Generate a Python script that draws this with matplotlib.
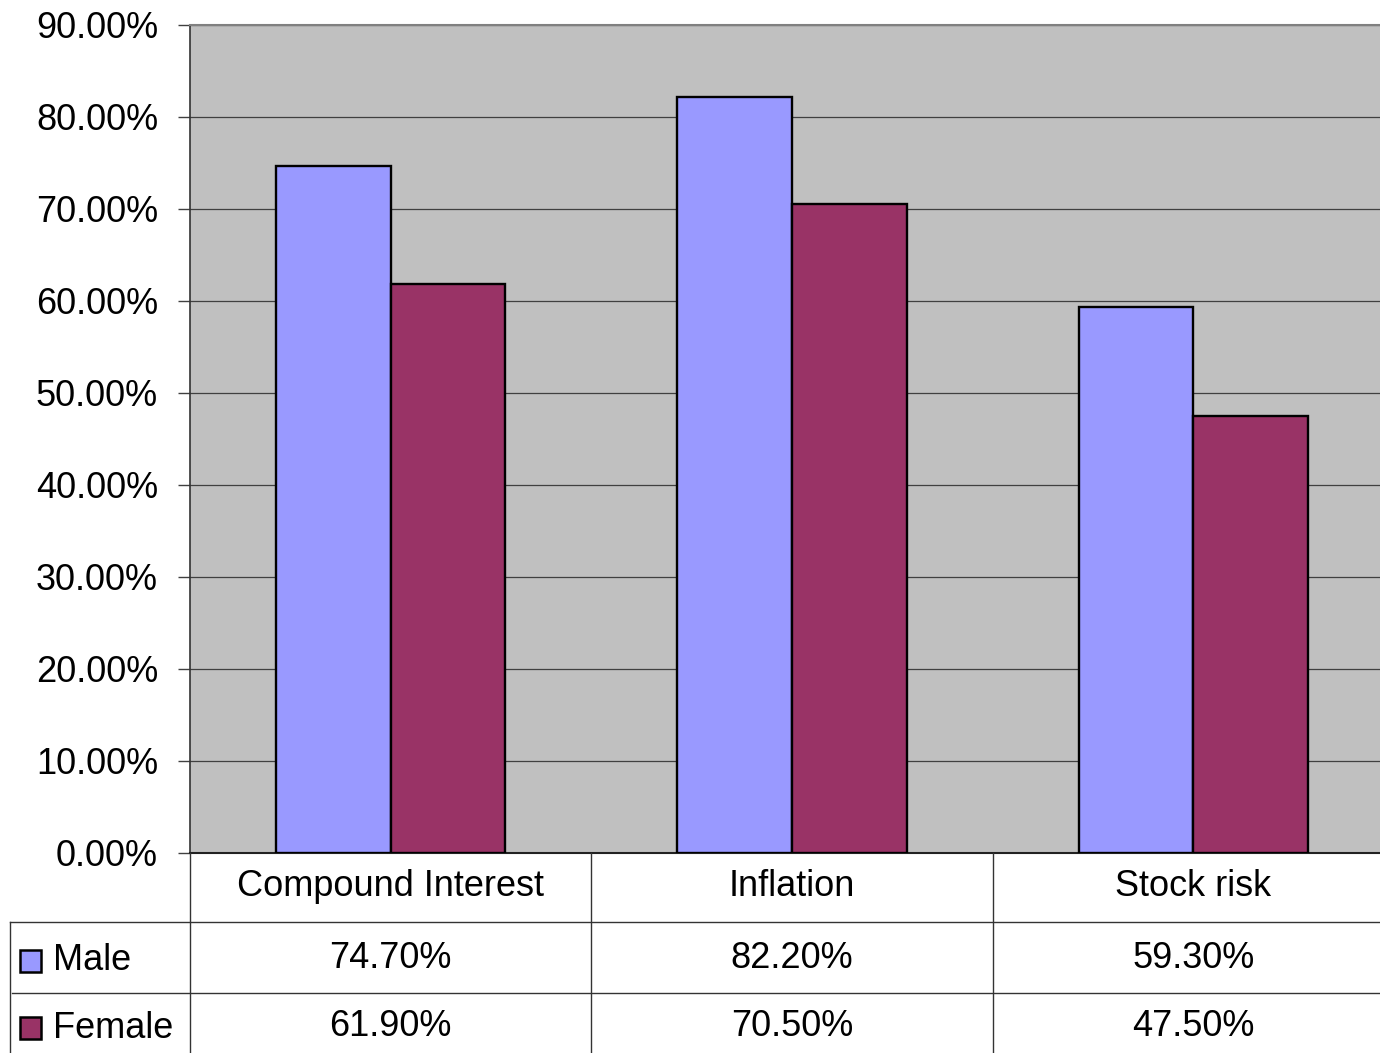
import matplotlib

matplotlib.use("Agg")
import matplotlib.pyplot as plt
import matplotlib.transforms as mtransforms
import numpy as np
from matplotlib.patches import Rectangle

plt.rcParams["font.family"] = ["Liberation Sans", "DejaVu Sans"]

categorias = ["Compound Interest", "Inflation", "Stock risk"]
series = ["Male", "Female"]
valores_male = [74.7, 82.2, 59.3]
valores_female = [61.9, 70.5, 47.5]
colores = {"Male": "#9999FF", "Female": "#993366"}
ticks_y = [0, 10, 20, 30, 40, 50, 60, 70, 80, 90]

W, H = 1380, 1053
fig = plt.figure(figsize=(W / 100, H / 100), dpi=100)
fig.patch.set_facecolor("white")


def fy(py):
    return 1 - py / H


# Área de trazado (se sale un poco por la derecha, como en el original)
x0, x1, y_top, y_bot = 190, 1394, 25, 853
ax = fig.add_axes([x0 / W, fy(y_bot), (x1 - x0) / W, (y_bot - y_top) / H])
ax.set_facecolor("#C0C0C0")

x = np.arange(len(categorias))
ancho = 0.286
ax.bar(x - ancho / 2, valores_male, ancho, color=colores["Male"], edgecolor="black", linewidth=1.7, zorder=3)
ax.bar(x + ancho / 2, valores_female, ancho, color=colores["Female"], edgecolor="black", linewidth=1.7, zorder=3)

ax.set_xlim(-0.5, len(categorias) - 0.5)
ax.set_ylim(0, 90)
ax.set_yticks(ticks_y)
ax.set_yticklabels([f"{t:.2f}%" for t in ticks_y], fontsize=26)
ax.set_xticks([])
ax.yaxis.grid(True, color="#404040", linewidth=0.9, zorder=1)
ax.tick_params(axis="y", length=9, width=1, color="#404040", pad=14)
for lado in ["top", "right"]:
    ax.spines[lado].set_color("#808080")
    ax.spines[lado].set_linewidth(1.5)
ax.spines["left"].set_color("#333333")
ax.spines["left"].set_linewidth(1.2)
ax.spines["bottom"].set_color("#222222")
ax.spines["bottom"].set_linewidth(1.5)

# Tabla de datos bajo el gráfico
trans = mtransforms.blended_transform_factory(ax.transData, fig.transFigure)
color_linea = "#333333"
fig.add_artist(plt.Line2D([x0 / W, x0 / W], [fy(853), fy(1053)], transform=fig.transFigure, color=color_linea, lw=1))
for i in range(1, len(categorias)):
    fig.add_artist(plt.Line2D([i - 0.5, i - 0.5], [fy(853), fy(1053)], transform=trans, color=color_linea, lw=1))
fig.add_artist(plt.Line2D([10 / W, 1], [fy(922), fy(922)], transform=fig.transFigure, color=color_linea, lw=1))
fig.add_artist(plt.Line2D([12 / W, 1], [fy(993), fy(993)], transform=fig.transFigure, color=color_linea, lw=1))
fig.add_artist(plt.Line2D([10 / W, 10 / W], [fy(922), fy(1053)], transform=fig.transFigure, color=color_linea, lw=1))

for i, cat in enumerate(categorias):
    fig.text(i, fy(886), cat, transform=trans, ha="center", va="center", fontsize=26)

filas = [("Male", valores_male, 961), ("Female", valores_female, 1028)]
for nombre, vals, py in filas:
    fig.add_artist(Rectangle((20 / W, fy(py + 11)), 21 / W, 22 / H, transform=fig.transFigure,
                             facecolor=colores[nombre], edgecolor="black", lw=1.8))
    fig.text(53 / W, fy(py), nombre, ha="left", va="center", fontsize=26)
    for i, v in enumerate(vals):
        fig.text(i, fy(py - 2), f"{v:.2f}%", transform=trans, ha="center", va="center", fontsize=26)

fig.savefig("out.png", dpi=100)
